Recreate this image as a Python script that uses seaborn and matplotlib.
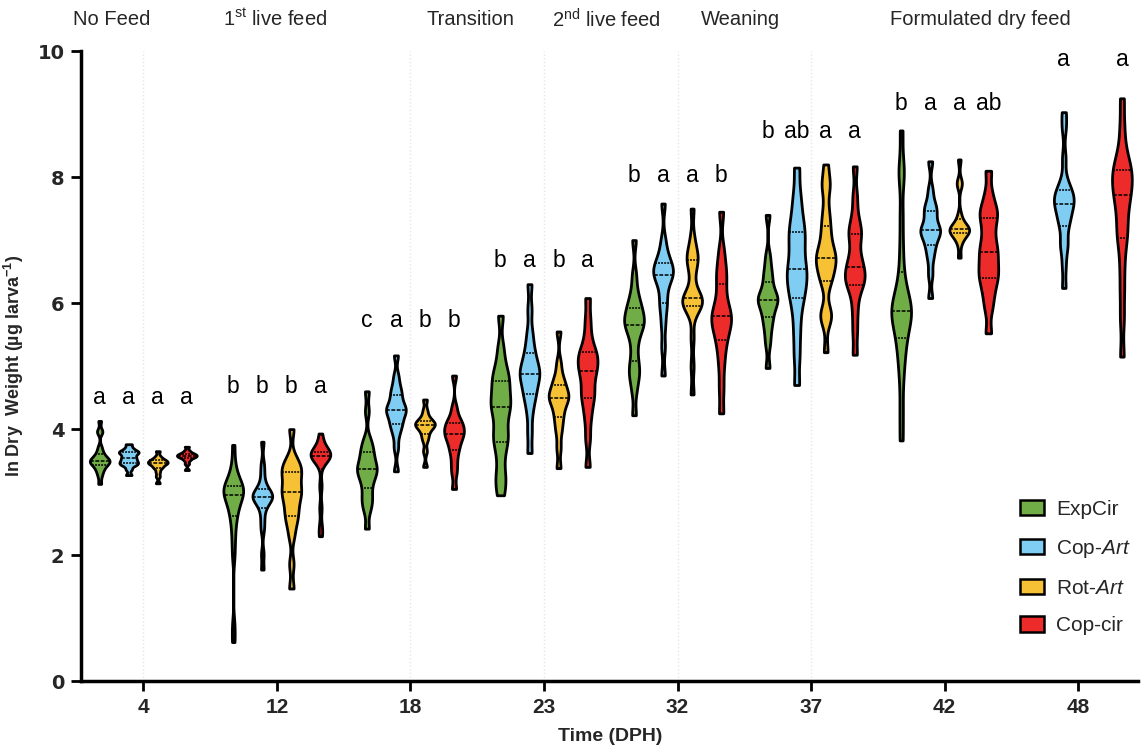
import numpy as np
import pandas as pd
import matplotlib
matplotlib.use("Agg")
import matplotlib.pyplot as plt
from matplotlib.patches import Patch
import seaborn as sns

# ---------------- data (ln dry weight) ----------------
days = ["4", "12", "18", "23", "32", "37", "42", "48"]
treatments = ["ExpCir", "Cop-Art", "Rot-Art", "Cop-cir"]
legend_labels = ["ExpCir", "Cop-$\\mathit{Art}$", "Rot-$\\mathit{Art}$", "Cop-cir"]
colors = ["#70ad47", "#80cdf3", "#f7c136", "#ee2b2b"]

expcir = {
    "4": [3.13, 3.25, 3.32, 3.36, 3.4, 3.43, 3.45, 3.47, 3.48, 3.5, 3.5, 3.52, 3.54, 3.57, 3.6, 3.65, 3.72, 3.95, 3.97, 4.13],
    "12": [0.62, 0.88, 2.0, 2.25, 2.45, 2.6, 2.7, 2.75, 2.85, 2.9, 2.95, 2.97, 3.0, 3.03, 3.05, 3.08, 3.1, 3.14, 3.2, 3.3, 3.45, 3.75],
    "18": [2.42, 2.7, 2.82, 2.9, 3.0, 3.12, 3.2, 3.27, 3.32, 3.36, 3.4, 3.45, 3.52, 3.6, 3.66, 3.75, 3.85, 4.28, 4.6],
    "23": [2.95, 3.15, 3.3, 3.55, 3.75, 3.85, 3.95, 4.1, 4.25, 4.35, 4.4, 4.5, 4.6, 4.72, 4.8, 4.9, 5.05, 5.3, 5.8],
    "32": [4.22, 4.6, 4.8, 4.9, 5.0, 5.15, 5.35, 5.5, 5.6, 5.65, 5.7, 5.75, 5.8, 5.9, 5.95, 6.05, 6.2, 6.45, 7.0],
    "37": [4.97, 5.35, 5.55, 5.7, 5.8, 5.9, 6.0, 6.04, 6.07, 6.1, 6.18, 6.3, 6.42, 6.55, 6.75, 7.4],
    "42": [3.82, 4.3, 4.8, 5.1, 5.3, 5.45, 5.6, 5.72, 5.8, 5.85, 5.88, 5.92, 6.0, 6.1, 6.25, 6.5, 6.9, 7.4, 8.05, 8.1, 8.74],
}
cop_art = {
    "4": [3.27, 3.36, 3.42, 3.44, 3.46, 3.48, 3.5, 3.53, 3.55, 3.58, 3.61, 3.63, 3.64, 3.66, 3.7, 3.76],
    "12": [1.77, 2.02, 2.4, 2.55, 2.7, 2.8, 2.85, 2.88, 2.91, 2.93, 2.94, 2.96, 2.98, 3.02, 3.07, 3.15, 3.3, 3.45, 3.8],
    "18": [3.33, 3.7, 3.9, 4.02, 4.08, 4.15, 4.22, 4.28, 4.3, 4.33, 4.38, 4.45, 4.54, 4.6, 4.7, 4.85, 5.17],
    "23": [3.62, 3.95, 4.25, 4.45, 4.55, 4.65, 4.75, 4.83, 4.88, 4.93, 5.0, 5.1, 5.2, 5.35, 5.55, 5.9, 6.3],
    "32": [4.85, 5.3, 5.65, 5.9, 6.03, 6.2, 6.35, 6.42, 6.46, 6.5, 6.55, 6.62, 6.68, 6.8, 7.0, 7.58],
    "37": [4.7, 5.15, 5.5, 5.8, 6.05, 6.15, 6.3, 6.42, 6.48, 6.6, 6.75, 6.9, 7.05, 7.15, 7.3, 7.5, 7.75, 8.15],
    "42": [6.08, 6.45, 6.7, 6.85, 6.95, 7.05, 7.12, 7.15, 7.17, 7.22, 7.35, 7.45, 7.5, 7.6, 7.8, 8.25],
    "48": [6.24, 6.6, 6.9, 6.95, 7.2, 7.3, 7.38, 7.48, 7.55, 7.6, 7.65, 7.7, 7.75, 7.82, 7.95, 8.3, 8.78, 9.03],
}
rot_art = {
    "4": [3.14, 3.25, 3.32, 3.38, 3.4, 3.43, 3.45, 3.46, 3.47, 3.48, 3.5, 3.51, 3.53, 3.57, 3.65],
    "12": [1.47, 1.86, 2.3, 2.5, 2.6, 2.7, 2.8, 2.9, 2.98, 3.02, 3.08, 3.18, 3.28, 3.33, 3.38, 3.45, 3.55, 4.0],
    "18": [3.4, 3.65, 3.82, 3.9, 3.97, 4.02, 4.05, 4.07, 4.09, 4.11, 4.14, 4.2, 4.3, 4.47],
    "23": [3.38, 3.7, 3.95, 4.1, 4.22, 4.32, 4.42, 4.48, 4.5, 4.55, 4.6, 4.68, 4.75, 4.85, 5.05, 5.55],
    "32": [4.55, 5.0, 5.45, 5.85, 5.95, 5.98, 6.02, 6.05, 6.07, 6.1, 6.2, 6.45, 6.62, 6.7, 6.75, 6.85, 7.05, 7.5],
    "37": [5.22, 5.75, 5.8, 5.85, 6.3, 6.4, 6.5, 6.6, 6.68, 6.72, 6.78, 6.85, 7.0, 7.15, 7.3, 7.5, 7.85, 7.9, 8.2],
    "42": [6.72, 6.95, 7.05, 7.1, 7.13, 7.15, 7.16, 7.17, 7.19, 7.22, 7.28, 7.4, 7.88, 7.92, 8.28],
}
cop_cir = {
    "4": [3.35, 3.45, 3.5, 3.53, 3.55, 3.56, 3.57, 3.58, 3.59, 3.6, 3.61, 3.63, 3.66, 3.72],
    "12": [2.3, 2.45, 2.75, 3.1, 3.45, 3.52, 3.55, 3.57, 3.59, 3.6, 3.61, 3.63, 3.65, 3.7, 3.8, 3.93],
    "18": [3.05, 3.3, 3.45, 3.6, 3.7, 3.78, 3.85, 3.9, 3.94, 3.98, 4.03, 4.08, 4.12, 4.2, 4.35, 4.85],
    "23": [3.4, 3.85, 4.15, 4.35, 4.5, 4.58, 4.7, 4.85, 4.92, 5.0, 5.08, 5.15, 5.22, 5.3, 5.5, 5.75, 6.08],
    "32": [4.25, 4.65, 5.0, 5.25, 5.42, 5.55, 5.65, 5.72, 5.79, 5.85, 5.95, 6.1, 6.3, 6.45, 6.6, 6.85, 7.45],
    "37": [5.18, 5.55, 5.85, 6.1, 6.28, 6.33, 6.38, 6.45, 6.55, 6.6, 6.7, 6.85, 7.05, 7.12, 7.2, 7.4, 7.7, 8.17],
    "42": [5.52, 5.9, 6.1, 6.25, 6.38, 6.45, 6.55, 6.65, 6.76, 6.85, 6.95, 7.1, 7.25, 7.38, 7.45, 7.55, 7.75, 8.1],
    "48": [5.15, 5.75, 6.2, 6.6, 6.95, 7.1, 7.25, 7.45, 7.6, 7.72, 7.8, 7.9, 8.0, 8.08, 8.15, 8.25, 8.45, 8.8, 9.25],
}

# significance letters per day (ExpCir, Cop-Art, Rot-Art, Cop-cir)
letters = {
    "4": ["a", "a", "a", "a"],
    "12": ["b", "b", "b", "a"],
    "18": ["c", "a", "b", "b"],
    "23": ["b", "a", "b", "a"],
    "32": ["b", "a", "a", "b"],
    "37": ["b", "ab", "a", "a"],
    "42": ["b", "a", "a", "ab"],
    "48": ["", "a", "", "a"],
}
letter_y = [4.5, 4.67, 5.73, 6.68, 8.03, 8.72, 9.17, 9.87]

phases = ["No Feed", "1$^{\\mathrm{st}}$ live feed", "Transition",
          "2$^{\\mathrm{nd}}$ live feed", "Weaning", "Formulated dry feed"]
phase_x = [-0.24, 0.99, 2.45, 3.47, 4.47, 6.27]
separator_x = [0, 2, 3, 4, 5]

# ---------------- build long table ----------------
rows = []
for trt, series in zip(treatments, [expcir, cop_art, rot_art, cop_cir]):
    for d, vals in series.items():
        for v in vals:
            rows.append((d, trt, v))
df = pd.DataFrame(rows, columns=["day", "trt", "w"])

# ---------------- style ----------------
sns.set_theme(style="white")
plt.rcParams["font.family"] = ["Liberation Sans", "DejaVu Sans"]
plt.rcParams["mathtext.fontset"] = "custom"
plt.rcParams["mathtext.rm"] = "Liberation Sans"
plt.rcParams["mathtext.it"] = "Liberation Sans:italic"
plt.rcParams["mathtext.bf"] = "Liberation Sans:bold"

fig = plt.figure(figsize=(11.43, 7.56), dpi=100)
ax = fig.add_axes([0.071, 0.099, 0.925, 0.8335])

width = 0.87
sns.violinplot(data=df, x="day", y="w", hue="trt", order=days, hue_order=treatments,
               palette=colors, cut=0, inner="quart", density_norm="width",
               bw_adjust=0.38, width=width, gap=0.32, linewidth=2.0,
               linecolor="black", saturation=1, legend=False, ax=ax,
               inner_kws=dict(linewidth=1.1))

for sx in separator_x:
    ax.axvline(sx, color="#e6e6e6", lw=1.0, ls=":", zorder=0)

# letters
n = len(treatments)
offsets = [width / n * (i - (n - 1) / 2) for i in range(n)]
for di, d in enumerate(days):
    for ti, lab in enumerate(letters[d]):
        if lab:
            ax.text(di + offsets[ti], letter_y[di], lab, ha="center", va="center",
                    fontsize=16.5, color="black")

# phase labels
for px, ph in zip(phase_x, phases):
    ax.text(px, 10.5, ph, ha="center", va="center", fontsize=14.5, clip_on=False)

ax.set_xlim(-0.465, 7.45)
ax.set_ylim(0, 10)
ax.set_yticks([0, 2, 4, 6, 8, 10])
for lbl in ax.get_yticklabels():
    lbl.set_fontfamily("DejaVu Sans")
    lbl.set_fontweight("bold")
    lbl.set_fontsize(14)
ax.set_xticks(range(len(days)))
ax.set_xticklabels(days, fontsize=15, fontweight="bold")

ax.set_xlabel("Time (DPH)", fontsize=14, fontweight="bold", labelpad=8)
ax.set_ylabel("ln Dry  Weight (\u00b5g larva$^{\\mathbf{-1}}$)", fontsize=13,
              fontweight="bold", labelpad=5)
ax.yaxis.set_label_coords(-0.052, 0.5)

for s in ["top", "right"]:
    ax.spines[s].set_visible(False)
for s in ["left", "bottom"]:
    ax.spines[s].set_linewidth(2.5)
    ax.spines[s].set_color("black")
ax.tick_params(axis="both", which="both", direction="out", length=7, width=2,
               color="black", bottom=True, left=True, pad=5)

handles = [Patch(facecolor=c, edgecolor="black", linewidth=1.8) for c in colors]
fig.legend(handles, legend_labels, loc="upper left",
           bbox_to_anchor=(1020 / 1143, 1 - 500 / 756), frameon=False,
           fontsize=15, handlelength=1.15, handleheight=0.75,
           labelspacing=0.9, handletextpad=0.6, borderpad=0, borderaxespad=0)

fig.savefig("out.png", dpi=100)
